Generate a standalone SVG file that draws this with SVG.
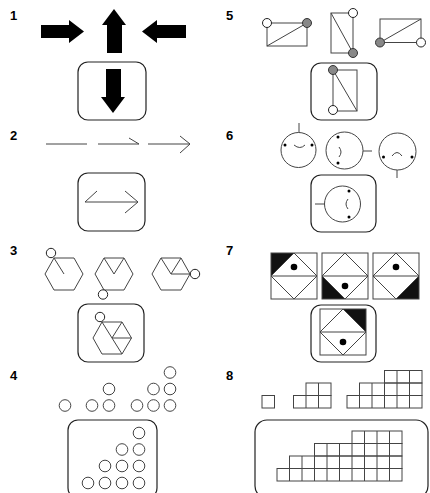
<svg xmlns="http://www.w3.org/2000/svg" width="430" height="493" viewBox="0 0 430 493">
<style>
.lbl{font-family:"Liberation Sans",Arial,sans-serif;font-weight:bold;font-size:13px;fill:#000}
.box{fill:none;stroke:#222;stroke-width:1.2}
.ln{fill:none;stroke:#444;stroke-width:1}
.ar{fill:#000}
.cw{fill:#fff;stroke:#222;stroke-width:1}
.cg{fill:#888;stroke:#333;stroke-width:1}
.eye{fill:#000}
.blk{fill:#111}
.dot{fill:#000}
</style>
<rect width="430" height="493" fill="#fff"/>

<!-- Panel 1 -->
<g id="panel1">
<text class="lbl" x="10" y="20">1</text>
<polygon class="ar" points="41,25 69,25 69,20 84,31.5 69,43 69,38 41,38"/>
<polygon class="ar" points="114,9 126,25 122,25 122,53 107,53 107,25 102,25"/>
<polygon class="ar" points="142,31.5 157,20 157,25 186,25 186,38 157,38 157,43"/>
<g id="answer1">
<rect class="box" x="78" y="62" width="68" height="58" rx="10"/>
<polygon class="ar" points="106,69 121,69 121,97 125,97 113,113 101,97 106,97"/>
</g>
</g>

<!-- Panel 5 -->
<g id="panel5">
<text class="lbl" x="226" y="20">5</text>
<g id="p5a">
<rect class="ln" x="267" y="23" width="40" height="23"/>
<line class="ln" x1="267" y1="46" x2="307" y2="23"/>
<circle class="cw" cx="267" cy="23" r="4.5"/>
<circle class="cg" cx="307" cy="23" r="4.5"/>
</g>
<g id="p5b">
<rect class="ln" x="331" y="13" width="22" height="40"/>
<line class="ln" x1="331" y1="13" x2="353" y2="53"/>
<circle class="cw" cx="353" cy="13" r="4.5"/>
<circle class="cg" cx="353" cy="53" r="4.5"/>
</g>
<g id="p5c">
<rect class="ln" x="380" y="19" width="41" height="23.5"/>
<line class="ln" x1="380" y1="42.5" x2="421" y2="19"/>
<circle class="cg" cx="380" cy="42.5" r="4.5"/>
<circle class="cw" cx="421" cy="42.5" r="4.5"/>
</g>
<g id="answer5">
<rect class="box" x="311" y="63" width="66" height="57" rx="10"/>
<rect class="ln" x="333" y="70" width="24" height="41"/>
<line class="ln" x1="333" y1="70" x2="357" y2="111"/>
<circle class="cg" cx="333" cy="70" r="4.5"/>
<circle class="cw" cx="333" cy="110" r="4.5"/>
</g>
</g>

<!-- Panel 2 -->
<g id="panel2">
<text class="lbl" x="10" y="140">2</text>
<line class="ln" x1="46" y1="144" x2="87" y2="144"/>
<polyline class="ln" points="98,144 139,144 129,138"/>
<line class="ln" x1="148" y1="144" x2="190" y2="144"/>
<polyline class="ln" points="180,136 190,144 180,153"/>
<g id="answer2">
<rect class="box" x="78" y="173" width="67" height="58" rx="10"/>
<line class="ln" x1="85" y1="202" x2="138" y2="202"/>
<line class="ln" x1="85" y1="202" x2="97" y2="191"/>
<polyline class="ln" points="125,191 138,202 125,213"/>
</g>
</g>

<!-- Panel 6 -->
<g id="panel6">
<text class="lbl" x="226" y="140">6</text>
<g id="face1">
<circle class="ln" cx="298.5" cy="150" r="17.5"/>
<line class="ln" x1="299" y1="123" x2="299" y2="132.5"/>
<circle class="eye" cx="285" cy="145" r="1.5"/>
<circle class="eye" cx="312" cy="145" r="1.5"/>
<path class="ln" d="M294,145 Q300,150 305,145"/>
</g>
<g id="face2">
<circle class="ln" cx="344.5" cy="150.5" r="18.5"/>
<line class="ln" x1="363" y1="151" x2="372" y2="151"/>
<circle class="eye" cx="338" cy="137" r="1.5"/>
<circle class="eye" cx="338" cy="163" r="1.5"/>
<path class="ln" d="M339,147 Q343,152 339,157"/>
</g>
<g id="face3">
<circle class="ln" cx="397.5" cy="151.5" r="18.5"/>
<line class="ln" x1="397" y1="170" x2="397" y2="178"/>
<circle class="eye" cx="383.5" cy="157" r="1.5"/>
<circle class="eye" cx="412" cy="157" r="1.5"/>
<path class="ln" d="M392,156 Q397,149 402,156"/>
</g>
<g id="answer6">
<rect class="box" x="311" y="175" width="65" height="57" rx="10"/>
<circle class="ln" cx="342.5" cy="204" r="18"/>
<line class="ln" x1="315" y1="204" x2="324.5" y2="204"/>
<circle class="eye" cx="349" cy="191" r="1.5"/>
<circle class="eye" cx="349" cy="217" r="1.5"/>
<path class="ln" d="M348,199 Q344,204 348,209"/>
</g>
</g>

<!-- Panel 3 -->
<g id="panel3">
<text class="lbl" x="10" y="255">3</text>
<g id="hex1">
<polygon class="ln" points="45,274 54,258 74,258 83,274 74,290 54,290"/>
<line class="ln" x1="54" y1="258" x2="64" y2="274"/>
<circle class="cw" cx="51" cy="253" r="4.7"/>
</g>
<g id="hex2">
<polygon class="ln" points="95,274 104,258 124,258 133,274 124,290 104,290"/>
<polyline class="ln" points="104,258 114,274 124,258"/>
<circle class="cw" cx="103" cy="294.5" r="4.7"/>
</g>
<g id="hex3">
<polygon class="ln" points="152,274 161,258 181,258 190,274 181,290 161,290"/>
<polyline class="ln" points="161,258 171,274 181,258"/>
<line class="ln" x1="171" y1="274" x2="190" y2="274"/>
<circle class="cw" cx="195" cy="274" r="4.7"/>
</g>
<g id="answer3">
<rect class="box" x="78" y="304" width="66" height="58" rx="10"/>
<polygon class="ln" points="93,338 102,322 122,322 131.5,338 122,354 102,354"/>
<polyline class="ln" points="102,322 112,338 122,322"/>
<line class="ln" x1="112" y1="338" x2="131.5" y2="338"/>
<line class="ln" x1="112" y1="338" x2="122" y2="354"/>
<circle class="cw" cx="100" cy="317" r="4.7"/>
</g>
</g>

<!-- Panel 7 -->
<g id="panel7">
<text class="lbl" x="226" y="255">7</text>
<g id="sq1">
<polygon class="blk" points="271,253 294,253 271,276"/>
<rect class="ln" x="271" y="253" width="46" height="46"/>
<polygon class="ln" points="294,253 317,276 294,299 271,276"/>
<line class="ln" x1="271" y1="276" x2="317" y2="276"/>
<circle class="dot" cx="294" cy="267" r="3.3"/>
</g>
<g id="sq2">
<polygon class="blk" points="322,276 322,299 345,299"/>
<rect class="ln" x="322" y="253" width="46" height="46"/>
<polygon class="ln" points="345,253 368,276 345,299 322,276"/>
<line class="ln" x1="322" y1="276" x2="368" y2="276"/>
<circle class="dot" cx="345" cy="286" r="3.3"/>
</g>
<g id="sq3">
<polygon class="blk" points="419,276 419,299 396,299"/>
<rect class="ln" x="373" y="253" width="46" height="46"/>
<polygon class="ln" points="396,253 419,276 396,299 373,276"/>
<line class="ln" x1="373" y1="276" x2="419" y2="276"/>
<circle class="dot" cx="396" cy="267" r="3.3"/>
</g>
<g id="answer7">
<rect class="box" x="311" y="305" width="65" height="57" rx="10"/>
<polygon class="blk" points="343,309 366,309 366,332"/>
<rect class="ln" x="320" y="309" width="46" height="46"/>
<polygon class="ln" points="343,309 366,332 343,355 320,332"/>
<line class="ln" x1="320" y1="332" x2="366" y2="332"/>
<circle class="dot" cx="343" cy="342" r="3.3"/>
</g>
</g>

<!-- Panel 4 -->
<g id="panel4">
<text class="lbl" x="10" y="380">4</text>
<g class="ln">
<circle cx="65" cy="405.5" r="5.8"/>
<circle cx="92" cy="405.5" r="5.8"/>
<circle cx="109" cy="405.5" r="5.8"/>
<circle cx="109" cy="389" r="5.8"/>
<circle cx="137" cy="405.5" r="5.8"/>
<circle cx="153.5" cy="405.5" r="5.8"/>
<circle cx="170" cy="405.5" r="5.8"/>
<circle cx="153.5" cy="389" r="5.8"/>
<circle cx="170" cy="389" r="5.8"/>
<circle cx="170" cy="372.5" r="5.8"/>
</g>
<g id="answer4">
<rect class="box" x="68" y="420" width="89" height="78" rx="10"/>
<g class="ln">
<circle cx="139" cy="433" r="5.8"/>
<circle cx="122" cy="449.5" r="5.8"/>
<circle cx="139" cy="449.5" r="5.8"/>
<circle cx="105" cy="466" r="5.8"/>
<circle cx="122" cy="466" r="5.8"/>
<circle cx="139" cy="466" r="5.8"/>
<circle cx="88" cy="483" r="5.8"/>
<circle cx="105" cy="483" r="5.8"/>
<circle cx="122" cy="483" r="5.8"/>
<circle cx="139" cy="483" r="5.8"/>
</g>
</g>
</g>

<!-- Panel 8 -->
<g id="panel8">
<text class="lbl" x="226" y="380">8</text>
<g id="g8a">
<rect class="ln" x="262" y="395.5" width="12.5" height="12.5"/>
</g>
<g id="g8b" class="ln">
<rect x="293.5" y="395.5" width="37.5" height="12.5"/>
<rect x="306" y="383" width="25" height="12.5"/>
<line x1="306" y1="395.5" x2="306" y2="408"/>
<line x1="318.5" y1="383" x2="318.5" y2="408"/>
</g>
<g id="g8c" class="ln">
<rect x="347" y="395.5" width="75" height="12.5"/>
<rect x="359.5" y="383" width="62.5" height="12.5"/>
<rect x="384.5" y="370.5" width="37.5" height="12.5"/>
<line x1="359.5" y1="395.5" x2="359.5" y2="408"/>
<line x1="372" y1="383" x2="372" y2="408"/>
<line x1="384.5" y1="383" x2="384.5" y2="408"/>
<line x1="397" y1="370.5" x2="397" y2="408"/>
<line x1="409.5" y1="370.5" x2="409.5" y2="408"/>
</g>
<g id="answer8">
<rect class="box" x="255" y="420" width="173" height="78" rx="12"/>
<g class="ln">
<rect x="352" y="431" width="50" height="12.5"/>
<rect x="314.5" y="443.5" width="87.5" height="12.5"/>
<rect x="289.5" y="456" width="112.5" height="12.5"/>
<rect x="277" y="468.5" width="125" height="12.5"/>
<line x1="289.5" y1="468.5" x2="289.5" y2="481"/>
<line x1="302" y1="456" x2="302" y2="481"/>
<line x1="314.5" y1="456" x2="314.5" y2="481"/>
<line x1="327" y1="443.5" x2="327" y2="481"/>
<line x1="339.5" y1="443.5" x2="339.5" y2="481"/>
<line x1="352" y1="443.5" x2="352" y2="481"/>
<line x1="364.5" y1="431" x2="364.5" y2="481"/>
<line x1="377" y1="431" x2="377" y2="481"/>
<line x1="389.5" y1="431" x2="389.5" y2="481"/>
</g>
</g>
</g>
</svg>
